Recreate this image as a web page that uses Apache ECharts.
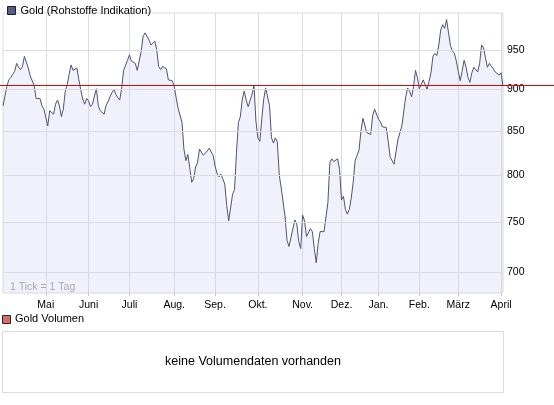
<!DOCTYPE html>
<html><head><meta charset="utf-8">
<script src="https://cdn.jsdelivr.net/npm/echarts@6/dist/echarts.min.js"></script>
<style>html,body{margin:0;padding:0;background:#fff}#c{width:554px;height:405px}</style>
</head><body><div id="c"></div>
<script>
// ---- data ----
const startDate = '2008-04-01';
const endDate = '2009-04-02';
const holidays = ['2008-12-24','2008-12-25','2008-12-26','2008-12-31','2009-01-01'];
const monthNames = ['Jan.','Feb.','März','April','Mai','Juni','Juli','Aug.','Sep.','Okt.','Nov.','Dez.'];
const yTicks = [700, 750, 800, 850, 900, 950];
const refLevel = 905.5;
const seriesName = 'Gold (Rohstoffe Indikation)';
const volumeName = 'Gold Volumen';
const volumeNote = 'keine Volumendaten vorhanden';
const tickNote = '1 Tick = 1 Tag';
const goldPrices = [
 880,892,904,912,915,919,923,933,928,925,929,942,940,927,917,915,905,889,890,889,
 880,876,866,856,874,876,870,882,887,880,867,876,898,906,919,931,924,925,927,912,
 899,888,882,889,886,879,882,892,901,880,874,873,870,881,885,891,896,900,894,890,
 887,902,924,925,937,944,936,936,933,924,926,948,968,973,975,964,957,956,962,951,
 929,925,929,931,926,912,910,911,904,890,877,877,860,829,816,823,808,792,796,809,
 814,829,830,822,823,827,830,832,822,810,802,798,801,802,790,767,751,753,779,784,
 825,860,867,888,898,887,879,880,894,905,862,842,838,864,888,902,904,880,842,836,
 842,837,800,786,784,755,731,725,734,736,752,748,730,723,757,751,735,736,743,740,
 723,709,728,740,740,740,740,770,814,818,815,816,818,806,773,777,763,758,763,775,
 792,816,822,828,850,865,866,848,847,846,868,876,875,864,861,855,857,854,838,820,
 818,812,826,840,842,856,856,891,902,898,891,903,924,915,901,903,912,910,900,910,
 921,942,946,943,957,977,984,979,991,973,956,949,946,936,923,911,923,937,928,915,
 909,921,928,926,922,933,957,953,940,928,933,931,926,922,922,918,921,904
];

// trading-day calendar (weekdays without holidays)
function buildDays() {
  const out = [];
  const d = new Date(startDate + 'T00:00:00Z');
  const end = new Date(endDate + 'T00:00:00Z');
  while (d <= end) {
    const wd = d.getUTCDay();
    const s = d.toISOString().slice(0, 10);
    if (wd !== 0 && wd !== 6 && holidays.indexOf(s) < 0) out.push(s);
    d.setUTCDate(d.getUTCDate() + 1);
  }
  return out;
}
const days = buildDays();
function isMonthStart(i) {
  return i > 0 && days[i].slice(5, 7) !== days[i - 1].slice(5, 7);
}

const FONT = '"Liberation Sans", Arial, sans-serif';
const GRID = '#dcdce0';
const chart = echarts.init(document.getElementById('c'));
chart.setOption({
  animation: false,
  textStyle: { fontFamily: FONT },
  legend: {
    left: 2, top: 0, itemWidth: 8, itemHeight: 8, itemGap: 4, icon: 'rect',
    selectedMode: false,
    textStyle: { fontSize: 11, color: '#000', fontFamily: FONT },
    data: [{ name: seriesName, itemStyle: { color: '#565d82', borderColor: '#1c1c2c', borderWidth: 1 } }]
  },
  grid: { left: 3, right: 51, top: 13, bottom: 112, show: true, borderColor: GRID, borderWidth: 1 },
  xAxis: {
    type: 'category', data: days, boundaryGap: false,
    axisLine: { show: false },
    axisTick: { show: true, interval: (i) => isMonthStart(i), length: 3, lineStyle: { color: '#c8c8cc' } },
    axisLabel: {
      interval: (i) => isMonthStart(i),
      formatter: (v) => monthNames[+v.slice(5, 7) - 1],
      fontSize: 10.5, color: '#000', margin: 7, fontFamily: FONT
    },
    splitLine: { show: true, interval: (i) => isMonthStart(i), lineStyle: { color: GRID, width: 1 } }
  },
  yAxis: {
    type: 'log', logBase: 10, position: 'right', min: 680, max: 1000,
    axisLine: { show: false },
    axisTick: { show: false, customValues: yTicks },
    axisLabel: { customValues: yTicks, fontSize: 10.5, color: '#000', margin: 4, fontFamily: FONT },
    splitLine: { show: false }
  },
  series: [{
    name: 'grid', type: 'line', data: [], z: 1, silent: true,
    markLine: {
      silent: true, symbol: ['none', 'none'], animation: false,
      label: { show: false },
      lineStyle: { color: GRID, width: 1, type: 'solid' },
      emphasis: { disabled: true },
      data: yTicks.map((v) => ({ yAxis: v }))
    }
  }, {
    name: seriesName, type: 'line', data: goldPrices, symbol: 'none', z: 3,
    lineStyle: { color: '#4b5276', width: 1 },
    itemStyle: { color: '#565d82' },
    areaStyle: { color: 'rgba(200,200,245,0.26)', opacity: 1, origin: 'start' }
  }]
});

const refY = chart.convertToPixel({ yAxisIndex: 0 }, refLevel);
chart.setOption({
  graphic: [
    { type: 'line', id: 'ref', z: 100, shape: { x1: 0, y1: Math.round(refY) + 0.5, x2: 554, y2: Math.round(refY) + 0.5 },
      style: { stroke: '#e60000', lineWidth: 1 } },
    { type: 'text', id: 'tick', z: 100, left: 10, top: 282,
      style: { text: tickNote, fill: '#a8a8ac', font: '10.5px ' + FONT } },
    { type: 'rect', id: 'volsq', z: 100, shape: { x: 2.5, y: 315.5, width: 8, height: 8 },
      style: { fill: '#d96a6a', stroke: '#2a2a2a', lineWidth: 1 } },
    { type: 'text', id: 'volname', z: 100, left: 15, top: 313,
      style: { text: volumeName, fill: '#000', font: '11px ' + FONT } },
    { type: 'rect', id: 'volbox', z: 90, shape: { x: 2.5, y: 331.5, width: 501, height: 61 },
      style: { fill: '#fff', stroke: GRID, lineWidth: 1 } },
    { type: 'text', id: 'volnote', z: 100, x: 253, y: 362,
      style: { text: volumeNote, fill: '#000', font: '12.5px ' + FONT, align: 'center', verticalAlign: 'middle' } }
  ]
});
</script>
</body></html>
